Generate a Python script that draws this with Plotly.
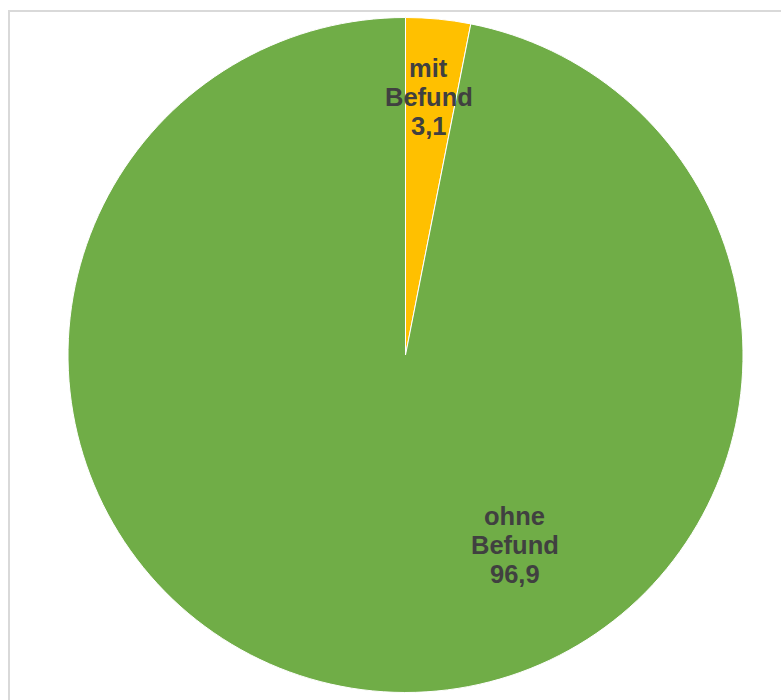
import plotly.graph_objects as go

# Anteil der Untersuchungen mit / ohne Befund (in %)
categories = ["mit Befund", "ohne Befund"]
label_lines = [["mit", "Befund"], ["ohne", "Befund"]]
values = [3.1, 96.9]
colors = ["#ffc000", "#70ad47"]

# label anchor positions (paper coordinates, centre of the middle line)
label_x = [0.549, 0.659]
label_y = [0.862, 0.221]

W, H = 781, 700
LINE_GAP = 29  # px between label lines

fig = go.Figure(
    go.Pie(
        labels=categories,
        values=values,
        sort=False,
        direction="clockwise",
        rotation=0,
        textinfo="none",
        hoverinfo="label+value",
        marker=dict(colors=colors, line=dict(color="#ffffff", width=1)),
        domain=dict(x=[68 / W, 743 / W], y=[7 / H, 683 / H]),
        showlegend=False,
    )
)

label_font = dict(family="Liberation Sans, Arial, sans-serif", size=25.5, color="#404040")
for lines, v, x, y in zip(label_lines, values, label_x, label_y):
    rows = lines + [f"{v:.1f}".replace(".", ",")]
    for i, row in enumerate(rows):
        fig.add_annotation(
            x=x, y=y, xref="paper", yref="paper",
            yshift=(1 - i) * LINE_GAP,
            text=f"<b>{row}</b>", showarrow=False,
            xanchor="center", yanchor="middle",
            font=label_font,
        )

# chart area frame
fig.add_shape(
    type="rect", xref="paper", yref="paper",
    x0=9 / W, x1=1.05, y0=-0.05, y1=1 - 11 / H,
    line=dict(color="#d9d9d9", width=2), fillcolor="rgba(0,0,0,0)",
)

fig.update_layout(
    width=W, height=H,
    margin=dict(l=0, r=0, t=0, b=0),
    paper_bgcolor="#ffffff",
    plot_bgcolor="#ffffff",
)

fig.write_html("out.html")
